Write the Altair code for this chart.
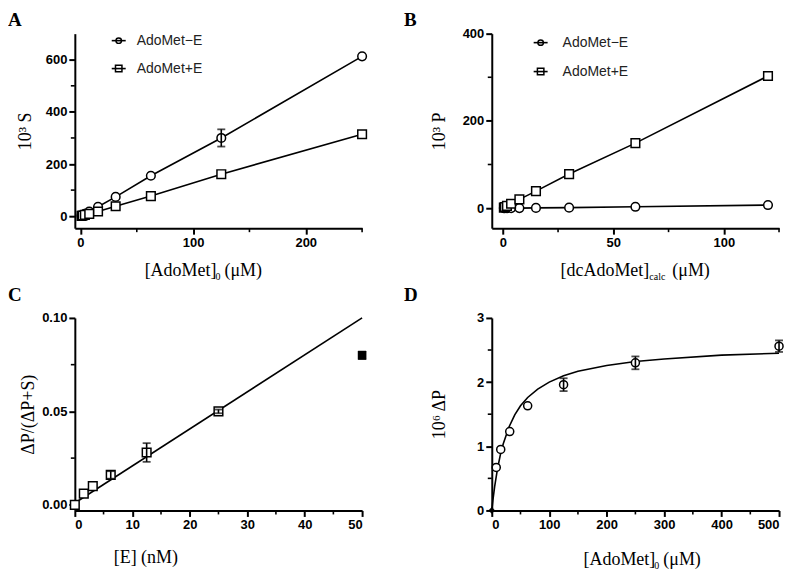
import altair as alt
import pandas as pd

# ---------------- data ----------------
# Panel A
A_conc = [0.98, 1.95, 3.9, 7.8, 15.6, 31.25, 62.5, 125, 250]
A_minusE = [2, 5, 9, 18, 36, 74, 155, 300, 613]
A_plusE = [1, 2.5, 5, 9, 18, 38, 77, 161, 314]
A_err_x = [125]
A_err_lo = [267]
A_err_hi = [333]

# Panel B
B_conc = [0.47, 0.94, 1.875, 3.75, 7.5, 15, 30, 60, 120]
B_minusE = [0, 0, 0, 0, 0, 0.5, 1, 3, 7]
B_plusE = [1.2, 2.5, 5, 10, 20, 39, 78, 149, 303]

# Panel C
C_E = [0, 1.56, 3.125, 6.25, 12.5, 25]
C_ratio = [0.0, 0.006, 0.010, 0.016, 0.028, 0.050]
C_err_x = [6.25, 12.5, 25, 50]
C_err_lo = [0.014, 0.023, 0.049, 0.078]
C_err_hi = [0.018, 0.033, 0.051, 0.082]
C_out_x = [50]
C_out_y = [0.080]
C_fit_x = [0, 50]
C_fit_y = [0.001, 0.100]

# Panel D
D_conc = [7.8, 15.6, 31.25, 62.5, 125, 250, 500]
D_dP = [0.67, 0.95, 1.23, 1.63, 1.96, 2.30, 2.56]
D_err_x = [125, 250, 500]
D_err_lo = [1.86, 2.20, 2.47]
D_err_hi = [2.06, 2.40, 2.65]
D_zero_x = [0]
D_zero_y = [0]
D_fit_x = [0, 2, 5, 10, 15, 20, 30, 40, 50, 62.5, 80, 100, 125, 150, 200, 250, 300, 400, 500]
D_fit_y = [0, 0.16, 0.37, 0.65, 0.87, 1.04, 1.30, 1.49, 1.63, 1.76, 1.89, 2.00, 2.10, 2.17, 2.26, 2.32, 2.36, 2.42, 2.45]

legend_labels = ["AdoMet\u2212E", "AdoMet+E"]

SERIF = "Liberation Serif"
SANS = "Liberation Sans"


def df(**cols):
    return pd.DataFrame(cols)


def build_panel(w, h, xdom, xmaj, xmin, ydom, ymaj, ymin, ytitle, ytitle_x,
                yfmt, letter, letter_xy, title_pieces, title_y, series,
                errs=None, extra=None, legend=None):
    xs = alt.Scale(domain=xdom, nice=False, zero=False)
    ys = alt.Scale(domain=ydom, nice=False, zero=False)
    xax = alt.Axis(values=xmaj, title=None)
    yargs = dict(values=ymaj, title=ytitle, titleX=ytitle_x, titleBaseline="middle")
    if yfmt:
        yargs["format"] = yfmt
    yax = alt.Axis(**yargs)

    def X(f="x"):
        return alt.X(f"{f}:Q", scale=xs, axis=xax)

    def Y(f="y"):
        return alt.Y(f"{f}:Q", scale=ys, axis=yax)

    layers = []
    for s in series:
        d = df(x=s["x"], y=s["y"])
        if s.get("line", True):
            layers.append(alt.Chart(d).mark_line(color="black", strokeWidth=1.6, interpolate="linear")
                          .encode(x=X(), y=Y()))
        if s.get("shape"):
            layers.append(alt.Chart(d).mark_point(shape=s["shape"], size=s.get("size", 70),
                                                  filled=True, fill=s.get("fill", "white"),
                                                  stroke="black", strokeWidth=1.5, opacity=1)
                          .encode(x=X(), y=Y()))
    if errs:
        ed = df(x=errs[0], lo=errs[1], hi=errs[2])
        layers.append(alt.Chart(ed).mark_rule(color="black", strokeWidth=1.6)
                      .encode(x=X(), y=Y("lo"), y2="hi:Q"))
        layers.append(alt.Chart(ed).mark_tick(orient="horizontal", size=8, thickness=1.8, color="black")
                      .encode(x=X(), y=Y("lo")))
        layers.append(alt.Chart(ed).mark_tick(orient="horizontal", size=8, thickness=1.8, color="black")
                      .encode(x=X(), y=Y("hi")))
    if extra:
        layers.extend(extra(X, Y))
    # minor ticks
    layers.append(alt.Chart(df(x=xmin)).mark_rule(color="black", strokeWidth=1.6)
                  .encode(x=X(), y=alt.value(h), y2=alt.value(h + 4)))
    layers.append(alt.Chart(df(y=ymin)).mark_rule(color="black", strokeWidth=1.6)
                  .encode(y=Y(), x=alt.value(0), x2=alt.value(-4)))
    # panel letter
    layers.append(alt.Chart(df(t=[letter])).mark_text(font=SERIF, fontWeight="bold", fontSize=19,
                                                       align="left", baseline="top", color="black")
                  .encode(text="t:N", x=alt.value(letter_xy[0]), y=alt.value(letter_xy[1])))
    # x-axis title pieces (with subscript)
    for (txt, px, dy, fs) in title_pieces:
        layers.append(alt.Chart(df(t=[txt])).mark_text(font=SERIF, fontSize=fs, align="left",
                                                        baseline="alphabetic", color="black")
                      .encode(text="t:N", x=alt.value(px), y=alt.value(title_y + dy)))
    # legend
    if legend:
        lx, ly0, dyrow, tx = legend
        shapes = ["circle", "square"]
        sizes = [30, 42]
        for i, lab in enumerate(legend_labels):
            yy = ly0 + i * dyrow
            layers.append(alt.Chart(df(t=[lab])).mark_rule(color="black", strokeWidth=1.6)
                          .encode(x=alt.value(lx - 7), x2=alt.value(lx + 7), y=alt.value(yy)))
            layers.append(alt.Chart(df(t=[lab])).mark_point(shape=shapes[i], size=sizes[i], filled=False,
                                                             stroke="black", strokeWidth=1.5, opacity=1)
                          .encode(x=alt.value(lx), y=alt.value(yy)))
            layers.append(alt.Chart(df(t=[lab])).mark_text(font=SANS, fontSize=14, align="left",
                                                            baseline="middle", color="#222222")
                          .encode(text="t:N", x=alt.value(tx), y=alt.value(yy)))
    return alt.layer(*layers).properties(width=w, height=h)


WA, HA = 288, 195
WC, HC = 288, 193

panelA = build_panel(
    WA, HA, [-5, 250], [0, 100, 200], [50, 150, 250], [-46, 700], [0, 200, 400, 600], [100, 300, 500],
    "10\u00b3 S", -49, None, "A", (-67, -23),
    [("[AdoMet]", 70, 0, 18), ("0", 141, 4, 10), ("(\u03bcM)", 150, 0, 18)], HA + 48,
    series=[dict(x=A_conc, y=A_minusE, shape="circle", size=75),
            dict(x=A_conc, y=A_plusE, shape="square", size=75)],
    errs=(A_err_x, A_err_lo, A_err_hi),
    legend=(44, 7, 28, 62))

panelB = build_panel(
    WA, HA, [-5, 125], [0, 50, 100], [25, 75, 125], [-46, 400], [0, 200, 400], [100, 300],
    "10\u00b3 P", -52, None, "B", (-88, -23),
    [("[dcAdoMet]", 69, 0, 18), ("calc", 158, 4, 10), ("(\u03bcM)", 181, 0, 18)], HA + 48,
    series=[dict(x=B_conc, y=B_minusE, shape="circle", size=75),
            dict(x=B_conc, y=B_plusE, shape="square", size=75)],
    legend=(49, 9, 29, 71))


def c_extra(X, Y):
    return [alt.Chart(df(x=C_out_x, y=C_out_y)).mark_point(shape="square", size=75, filled=True,
                                                           color="black", opacity=1)
            .encode(x=X(), y=Y())]


panelC = build_panel(
    WC, HC, [0, 50], [0, 10, 20, 30, 40, 50], [5, 15, 25, 35, 45], [-0.003, 0.10], [0, 0.05, 0.10],
    [0.025, 0.075], "\u0394P/(\u0394P+S)", -46, ".2f", "C", (-67, -32),
    [("[E] (nM)", 39, 0, 18)], HC + 53,
    series=[dict(x=C_fit_x, y=C_fit_y),
            dict(x=C_E, y=C_ratio, shape="square", size=75, line=False)],
    errs=(C_err_x, C_err_lo, C_err_hi),
    extra=c_extra)


def d_extra(X, Y):
    return [alt.Chart(df(x=D_zero_x, y=D_zero_y)).mark_point(shape="diamond", size=45, filled=True,
                                                             color="black", opacity=1)
            .encode(x=X(), y=Y())]


panelD = build_panel(
    WC, HC, [0, 500], [0, 100, 200, 300, 400, 500], [50, 150, 250, 350, 450], [0, 3], [0, 1, 2, 3],
    [0.5, 1.5, 2.5], "10\u2076 \u0394P", -52, None, "D", (-88, -32),
    [("[AdoMet]", 92, 0, 18), ("0", 163, 4, 10), ("(\u03bcM)", 172, 0, 18)], HC + 55,
    series=[dict(x=D_fit_x, y=D_fit_y),
            dict(x=D_conc, y=D_dP, shape="circle", size=65, line=False)],
    errs=(D_err_x, D_err_lo, D_err_hi),
    extra=d_extra)

chart = alt.concat(panelA, panelB, panelC, panelD, columns=2,
                   spacing=alt.RowColnumber(row=90, column=130), bounds="flush").properties(
    padding={"left": 0, "top": 2, "right": 5, "bottom": 5},
).configure_view(stroke=None).configure_axis(
    grid=False,
    domainColor="black", domainWidth=2,
    tickColor="black", tickWidth=2, tickSize=6,
    labelFont=SANS, labelFontWeight="bold", labelFontSize=13, labelColor="black", labelPadding=2,
    titleFont=SERIF, titleFontWeight="normal", titleFontSize=18, titleColor="black",
)

chart.save("out.html", embed_options={"renderer": "svg", "actions": False})
